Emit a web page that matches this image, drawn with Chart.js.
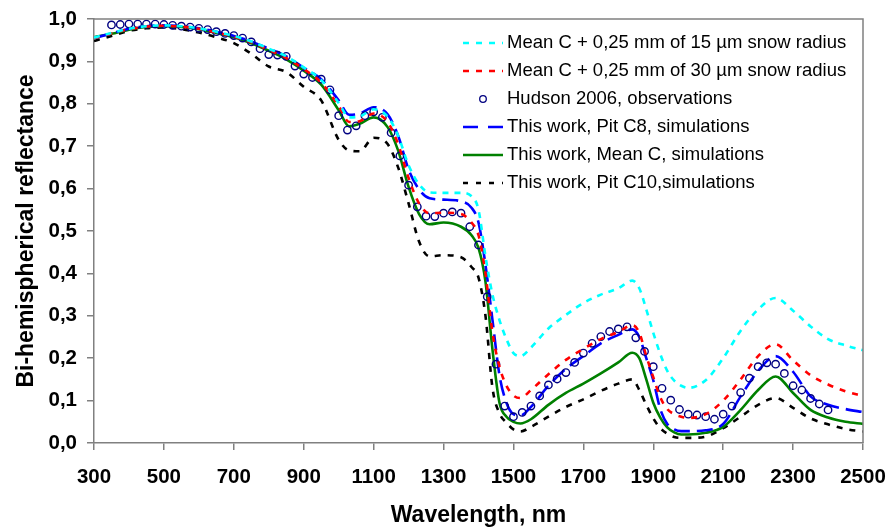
<!DOCTYPE html>
<html>
<head>
<meta charset="utf-8">
<title>Bi-hemispherical reflectance</title>
<script src="https://cdn.jsdelivr.net/npm/chart.js@4.4.1/dist/chart.umd.min.js"></script>
<style>
  html, body { margin: 0; padding: 0; background: #fff; }
  #wrap { width: 890px; height: 529px; }
</style>
</head>
<body>
<div id="wrap"><canvas id="reflChart" width="890" height="529"></canvas></div>
<script>
'use strict';

// Wavelength grid (nm) shared by the simulated curves
const simWavelengths = [300, 350, 400, 450, 500, 550, 600, 650, 700, 750, 800, 850, 900, 950, 1000,
	1030, 1060, 1100, 1140, 1170, 1200, 1230, 1260, 1300, 1350, 1380,
	1400, 1420, 1440, 1460, 1480, 1500, 1520,
	1550, 1600, 1650, 1700, 1750, 1800,
	1840, 1860, 1880, 1900, 1920, 1940, 1960, 1980, 2000,
	2050, 2100, 2150, 2200, 2250, 2300, 2350, 2400, 2450, 2500];

// Mean C + 0,25 mm of 15 um snow radius
const snow15 = [0.956, 0.967, 0.977, 0.983, 0.985, 0.983, 0.978, 0.970, 0.960, 0.947, 0.930, 0.912, 0.886, 0.856, 0.802,
	0.768, 0.770, 0.787, 0.770, 0.725, 0.655, 0.610, 0.591, 0.590, 0.590, 0.582,
	0.550, 0.440, 0.350, 0.290, 0.245, 0.212, 0.205,
	0.225, 0.270, 0.302, 0.330, 0.350, 0.365,
	0.383, 0.365, 0.315, 0.260, 0.210, 0.170, 0.147, 0.135, 0.130,
	0.148, 0.200, 0.265, 0.315, 0.342, 0.312, 0.275, 0.245, 0.230, 0.219];

// Mean C + 0,25 mm of 30 um snow radius
const snow30 = [0.955, 0.966, 0.976, 0.982, 0.984, 0.982, 0.977, 0.968, 0.958, 0.945, 0.927, 0.908, 0.882, 0.850, 0.795,
	0.757, 0.759, 0.777, 0.757, 0.705, 0.625, 0.565, 0.542, 0.543, 0.540, 0.520,
	0.490, 0.400, 0.260, 0.180, 0.135, 0.112, 0.106,
	0.125, 0.162, 0.196, 0.222, 0.245, 0.262,
	0.278, 0.260, 0.205, 0.155, 0.108, 0.080, 0.068, 0.062, 0.059,
	0.068, 0.100, 0.150, 0.205, 0.233, 0.195, 0.160, 0.138, 0.122, 0.111];

// This work, Pit C8
const pitC8 = [0.955, 0.966, 0.977, 0.983, 0.985, 0.983, 0.978, 0.970, 0.960, 0.947, 0.930, 0.912, 0.885, 0.858, 0.808,
	0.774, 0.777, 0.792, 0.775, 0.725, 0.645, 0.598, 0.577, 0.574, 0.570, 0.555,
	0.520, 0.420, 0.290, 0.160, 0.095, 0.068, 0.065,
	0.085, 0.135, 0.175, 0.205, 0.235, 0.255,
	0.268, 0.250, 0.200, 0.148, 0.080, 0.045, 0.032, 0.028, 0.028,
	0.030, 0.045, 0.110, 0.170, 0.205, 0.168, 0.110, 0.090, 0.080, 0.073];

// This work, Mean C
const meanC = [0.957, 0.965, 0.975, 0.981, 0.983, 0.981, 0.976, 0.967, 0.957, 0.943, 0.925, 0.905, 0.878, 0.845, 0.785,
	0.747, 0.753, 0.768, 0.745, 0.690, 0.604, 0.540, 0.516, 0.520, 0.510, 0.490,
	0.460, 0.380, 0.220, 0.095, 0.062, 0.050, 0.046,
	0.056, 0.090, 0.118, 0.140, 0.164, 0.190,
	0.213, 0.200, 0.150, 0.095, 0.060, 0.037, 0.025, 0.020, 0.020,
	0.024, 0.038, 0.078, 0.125, 0.157, 0.118, 0.078, 0.060, 0.050, 0.045];

// This work, Pit C10
const pitC10 = [0.948, 0.960, 0.972, 0.978, 0.980, 0.976, 0.968, 0.957, 0.943, 0.918, 0.888, 0.875, 0.840, 0.808, 0.715,
	0.690, 0.688, 0.720, 0.705, 0.650, 0.565, 0.475, 0.440, 0.443, 0.438, 0.415,
	0.390, 0.300, 0.130, 0.070, 0.048, 0.032, 0.027,
	0.038, 0.062, 0.085, 0.103, 0.123, 0.140,
	0.150, 0.125, 0.090, 0.058, 0.035, 0.022, 0.014, 0.012, 0.012,
	0.015, 0.035, 0.062, 0.090, 0.106, 0.083, 0.058, 0.044, 0.033, 0.027];

// Hudson 2006 observations
const obsWavelengths = [350, 375, 400, 425, 450, 475, 500, 525, 550, 575, 600, 625, 650, 675, 700, 725, 750, 775,
	800, 825, 850, 875, 900, 925, 950, 975, 1000, 1025, 1050, 1075, 1100, 1125, 1150, 1175,
	1200, 1225, 1250, 1275, 1300, 1325, 1350, 1375, 1400, 1425, 1450, 1475, 1500, 1525, 1550, 1575,
	1600, 1625, 1650, 1675, 1700, 1725, 1750, 1775, 1800, 1825, 1850, 1875, 1900, 1925, 1950, 1975,
	2000, 2025, 2050, 2075, 2100, 2125, 2150, 2175, 2200, 2225, 2250, 2275, 2300, 2325, 2350, 2375, 2400];
const hudson2006 = [0.986, 0.987, 0.988, 0.988, 0.988, 0.988, 0.987, 0.985, 0.983, 0.981, 0.978, 0.975, 0.970, 0.966, 0.961, 0.955, 0.946, 0.930,
	0.916, 0.915, 0.912, 0.889, 0.870, 0.862, 0.858, 0.833, 0.772, 0.738, 0.748, 0.772, 0.781, 0.768, 0.732, 0.677,
	0.608, 0.557, 0.535, 0.534, 0.542, 0.545, 0.542, 0.510, 0.467, 0.345, 0.186, 0.087, 0.062, 0.072, 0.087, 0.111,
	0.137, 0.151, 0.166, 0.190, 0.212, 0.235, 0.251, 0.263, 0.269, 0.274, 0.248, 0.216, 0.180, 0.129, 0.101, 0.079,
	0.068, 0.066, 0.062, 0.056, 0.068, 0.087, 0.119, 0.153, 0.180, 0.189, 0.186, 0.164, 0.135, 0.125, 0.105, 0.092, 0.078];

// Axis ticks
const xTickValues = [300, 500, 700, 900, 1100, 1300, 1500, 1700, 1900, 2100, 2300, 2500];
const xTickLabels = ['300', '500', '700', '900', '1100', '1300', '1500', '1700', '1900', '2100', '2300', '2500'];
const yTickValues = [0, 0.1, 0.2, 0.3, 0.4, 0.5, 0.6, 0.7, 0.8, 0.9, 1.0];
const yTickLabels = ['0,0', '0,1', '0,2', '0,3', '0,4', '0,5', '0,6', '0,7', '0,8', '0,9', '1,0'];

const FONT = '"Liberation Sans", Arial, sans-serif';
const AXIS_GREY = '#808080';

/**
 * Pair x and y arrays into {x, y} points
 */
function toPoints(xs, ys) {
	return xs.map(function(x, i) {
		return { x: x, y: ys[i] };
	});
}

/**
 * Simulated curve dataset
 */
function simLine(label, values, color, dash) {
	return {
		label: label,
		data: toPoints(simWavelengths, values),
		borderColor: color,
		backgroundColor: color,
		borderWidth: 2.6,
		borderDash: dash,
		pointRadius: 0,
		fill: false,
		cubicInterpolationMode: 'monotone'
	};
}

/**
 * Drop the label overflow padding so the plot area is set by layout.padding only
 */
function noLabelPadding(scale) {
	scale.paddingTop = 0;
	scale.paddingBottom = 0;
	scale.paddingLeft = 0;
	scale.paddingRight = 0;
}

/**
 * Frame round the plot area and legend drawn inside it
 */
const framePlugin = {
	id: 'frameAndLegend',
	afterDatasetsDraw: function(chart, args, opts) {
		const ctx = chart.ctx;
		const area = chart.chartArea;

		ctx.save();
		ctx.strokeStyle = AXIS_GREY;
		ctx.lineWidth = 1.5;
		ctx.beginPath();
		ctx.moveTo(area.left, area.top);
		ctx.lineTo(area.right, area.top);
		ctx.lineTo(area.right, area.bottom);
		ctx.stroke();

		ctx.font = opts.fontSize + 'px ' + FONT;
		ctx.textBaseline = 'middle';
		ctx.fillStyle = '#000';

		chart.data.datasets.forEach(function(ds, i) {
			const y = opts.top + i * opts.rowHeight;
			const x0 = opts.left;
			const x1 = opts.left + opts.sampleWidth;

			if (ds.showLine === false) {
				ctx.setLineDash([]);
				ctx.lineWidth = 1.3;
				ctx.strokeStyle = ds.borderColor;
				ctx.beginPath();
				ctx.arc((x0 + x1) / 2, y, 3.3, 0, Math.PI * 2);
				ctx.stroke();
			} else {
				ctx.setLineDash(ds.legendDash || ds.borderDash || []);
				ctx.lineWidth = ds.borderWidth;
				ctx.strokeStyle = ds.borderColor;
				ctx.beginPath();
				ctx.moveTo(x0, y);
				ctx.lineTo(x1, y);
				ctx.stroke();
			}
			ctx.setLineDash([]);
			ctx.fillText(ds.label, x1 + opts.gap, y);
		});
		ctx.restore();
	}
};

const ctx = document.getElementById('reflChart').getContext('2d');

const cyanLine = simLine('Mean C + 0,25 mm of 15 \u00b5m snow radius', snow15, '#00ffff', [6, 6]);
cyanLine.legendDash = [6, 7];
const redLine = simLine('Mean C + 0,25 mm of 30 \u00b5m snow radius', snow30, '#ff0000', [6, 7]);
redLine.legendDash = [6, 7];
const blueLine = simLine('This work, Pit C8, simulations', pitC8, '#0000ff', [16, 7]);
blueLine.legendDash = [15, 10];
const greenLine = simLine('This work, Mean C, simulations', meanC, '#008000', []);
const blackLine = simLine('This work, Pit C10,simulations', pitC10, '#000000', [6, 7]);
blackLine.legendDash = [5, 8];

new Chart(ctx, {
	type: 'line',
	data: {
		datasets: [
			cyanLine,
			redLine,
			{
				label: 'Hudson 2006, observations',
				data: toPoints(obsWavelengths, hudson2006),
				showLine: false,
				borderColor: '#000080',
				backgroundColor: 'rgba(255,255,255,0)',
				pointRadius: 3.7,
				pointBorderWidth: 1.4,
				pointStyle: 'circle'
			},
			blueLine,
			greenLine,
			blackLine
		]
	},
	options: {
		responsive: false,
		animation: false,
		layout: {
			padding: { top: 19, right: 27, left: 0, bottom: 0 }
		},
		plugins: {
			legend: { display: false },
			tooltip: { enabled: false },
			frameAndLegend: {
				left: 463,
				top: 43,
				rowHeight: 28,
				sampleWidth: 40,
				gap: 4,
				fontSize: 18.5
			}
		},
		scales: {
			x: {
				type: 'linear',
				min: 300,
				max: 2500,
				afterBuildTicks: function(scale) {
					scale.ticks = xTickValues.map(function(v) { return { value: v }; });
				},
				afterFit: function(scale) {
					scale.height = 86;
					noLabelPadding(scale);
				},
				ticks: {
					autoSkip: false,
					maxRotation: 0,
					padding: 15,
					color: '#000',
					font: { family: FONT, size: 20.5, weight: 'bold' },
					callback: function(value, index) {
						return xTickLabels[index];
					}
				},
				grid: {
					drawOnChartArea: false,
					drawTicks: true,
					tickLength: 7,
					color: AXIS_GREY,
					lineWidth: 1.5
				},
				border: { display: true, color: AXIS_GREY, width: 1.5 },
				title: {
					display: true,
					text: 'Wavelength, nm',
					color: '#000',
					font: { family: FONT, size: 23, weight: 'bold' },
					padding: { top: 0, bottom: 0 }
				}
			},
			y: {
				type: 'linear',
				min: 0,
				max: 1,
				afterBuildTicks: function(scale) {
					scale.ticks = yTickValues.map(function(v) { return { value: v }; });
				},
				afterFit: function(scale) {
					scale.width = 94;
					noLabelPadding(scale);
				},
				ticks: {
					autoSkip: false,
					padding: 10,
					color: '#000',
					font: { family: FONT, size: 20.5, weight: 'bold' },
					callback: function(value, index) {
						return yTickLabels[index];
					}
				},
				grid: {
					drawOnChartArea: false,
					drawTicks: true,
					tickLength: 7,
					color: AXIS_GREY,
					lineWidth: 1.5
				},
				border: { display: true, color: AXIS_GREY, width: 1.5 },
				title: {
					display: true,
					text: 'Bi-hemispherical reflectance',
					color: '#000',
					font: { family: FONT, size: 23, weight: 'bold' },
					padding: { top: 13, bottom: 0 }
				}
			}
		}
	},
	plugins: [framePlugin]
});
</script>
</body>
</html>
